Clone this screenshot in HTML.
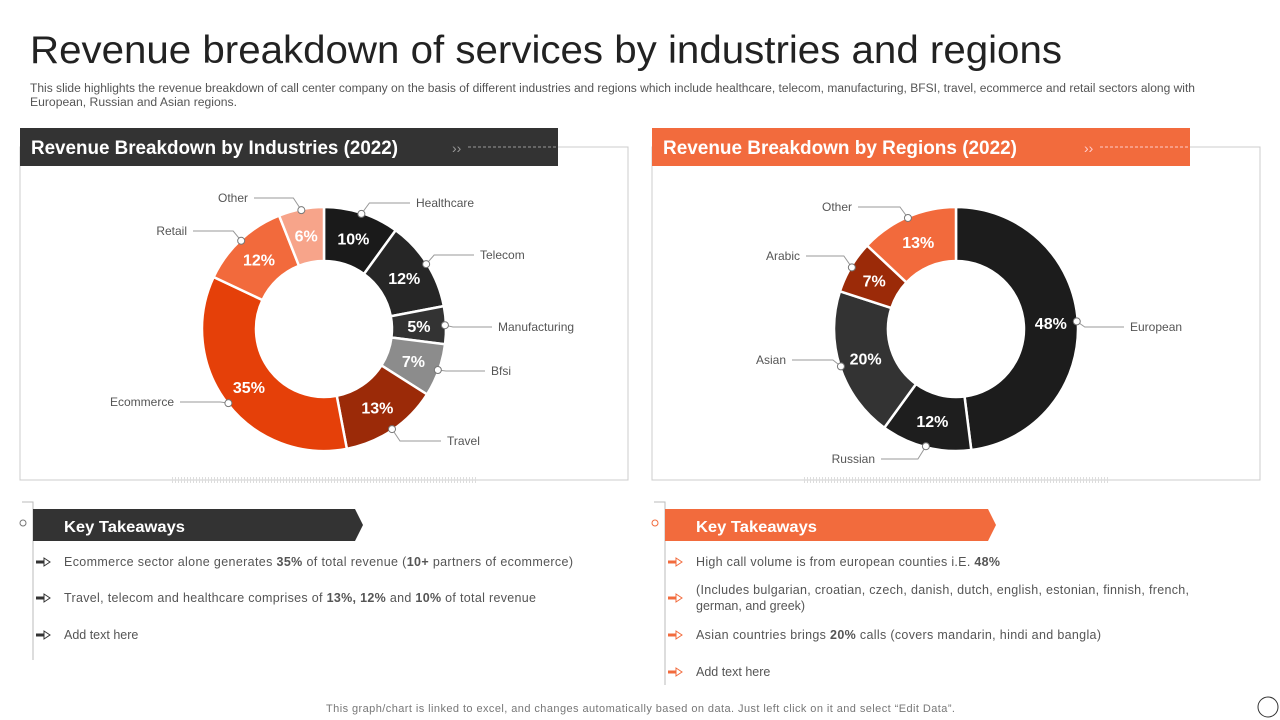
<!DOCTYPE html>
<html><head><meta charset="utf-8"><style>
body{margin:0;background:#fff;}
svg{display:block;font-family:"Liberation Sans",sans-serif;}
</style></head><body>
<svg id="s" width="1280" height="720" viewBox="0 0 1280 720">
<text x="30" y="63" font-size="39" fill="#222" textLength="1032" lengthAdjust="spacingAndGlyphs">Revenue breakdown of services by industries and regions</text>
<text x="30" y="92" font-size="11.5" fill="#555" textLength="1165" lengthAdjust="spacingAndGlyphs">This slide highlights the revenue breakdown of call center company on the basis of different industries and regions which include healthcare, telecom, manufacturing, BFSI, travel,  ecommerce and retail sectors along with</text>
<text x="30" y="106" font-size="11.5" fill="#555" textLength="207" lengthAdjust="spacingAndGlyphs">European, Russian and Asian regions.</text>

<rect x="20" y="147" width="608" height="333" fill="none" stroke="#ccc"/>
<rect x="20" y="128" width="538" height="38" fill="#333"/>
<text x="31" y="154" font-size="19" font-weight="bold" fill="#fff" textLength="367" lengthAdjust="spacingAndGlyphs">Revenue Breakdown by Industries (2022)</text>
<text x="452" y="153" font-size="14" fill="#999">››</text>
<line x1="468" y1="147" x2="558" y2="147" stroke="#999" stroke-dasharray="3,2"/>
<line x1="172" y1="480" x2="478" y2="480" stroke="#ddd" stroke-width="6" stroke-dasharray="1,2"/>

<rect x="652" y="147" width="608" height="333" fill="none" stroke="#ccc"/>
<rect x="652" y="128" width="538" height="38" fill="#f26b3d"/>
<text x="663" y="154" font-size="19" font-weight="bold" fill="#fff" textLength="354" lengthAdjust="spacingAndGlyphs">Revenue Breakdown by Regions (2022)</text>
<text x="1084" y="153" font-size="14" fill="#fcc">››</text>
<line x1="1100" y1="147" x2="1190" y2="147" stroke="#fcc" stroke-dasharray="3,2"/>
<line x1="804" y1="480" x2="1110" y2="480" stroke="#ddd" stroke-width="6" stroke-dasharray="1,2"/>

<g id="chart1"></g>
<g id="chart2"></g>

<polyline points="22,502 33,502 33,660" fill="none" stroke="#bbb"/>
<circle cx="23" cy="523" r="3" fill="#fff" stroke="#777"/>
<polygon points="33,509 355,509 363,525 355,541 33,541" fill="#333"/>
<text x="64" y="532" font-size="16" font-weight="bold" fill="#fff" textLength="121" lengthAdjust="spacingAndGlyphs">Key Takeaways</text>
<g font-size="12.5" fill="#555">
<text x="64" y="566" textLength="509" lengthAdjust="spacing">Ecommerce sector alone generates <tspan font-weight="bold">35%</tspan> of total revenue  (<tspan font-weight="bold">10+</tspan> partners of ecommerce)</text>
<text x="64" y="602" textLength="472" lengthAdjust="spacing">Travel, telecom and healthcare comprises of <tspan font-weight="bold">13%, 12%</tspan> and <tspan font-weight="bold">10%</tspan> of total revenue</text>
<text x="64" y="639">Add text here</text>
<text x="696" y="566" textLength="304" lengthAdjust="spacing">High call volume is from european counties i.E. <tspan font-weight="bold">48%</tspan></text>
<text x="696" y="594" textLength="493" lengthAdjust="spacing">(Includes bulgarian, croatian, czech, danish, dutch, english, estonian, finnish, french,</text>
<text x="696" y="610">german, and greek)</text>
<text x="696" y="639" textLength="405" lengthAdjust="spacing">Asian countries brings <tspan font-weight="bold">20%</tspan> calls (covers mandarin, hindi and bangla)</text>
<text x="696" y="676">Add text here</text>
</g>
<g id="arrows"></g>

<polyline points="654,502 665,502 665,685" fill="none" stroke="#bbb"/>
<circle cx="655" cy="523" r="3" fill="#fff" stroke="#f26b3d"/>
<polygon points="665,509 988,509 996,525 988,541 665,541" fill="#f26b3d"/>
<text x="696" y="532" font-size="16" font-weight="bold" fill="#fff" textLength="121" lengthAdjust="spacingAndGlyphs">Key Takeaways</text>

<text x="326" y="712" font-size="11" fill="#777" textLength="629" lengthAdjust="spacing">This graph/chart is linked to excel,  and changes automatically based on data. Just left click on it and select “Edit Data”.</text>
<circle cx="1268" cy="707" r="10" fill="none" stroke="#333"/>
</svg>
<script>
const indCategories=["Healthcare","Telecom","Manufacturing","Bfsi","Travel","Ecommerce","Retail","Other"];
const indValues=[10,12,5,7,13,35,12,6];
const regCategories=["European","Russian","Asian","Arabic","Other"];
const regValues=[48,12,20,7,13];

const NS="http://www.w3.org/2000/svg";
function mk(tag,attrs,parent){const e=document.createElementNS(NS,tag);for(const k in attrs)e.setAttribute(k,attrs[k]);parent.appendChild(e);return e;}
function pt(cx,cy,r,a){return [cx+r*Math.sin(a),cy-r*Math.cos(a)];}
function donut(g,cats,vals,colors,labelPos,cx,cy,R,r0){
  const total=vals.reduce((a,b)=>a+b,0);let acc=0;
  vals.forEach((v,i)=>{
    const a0=acc/total*2*Math.PI;acc+=v;const a1=acc/total*2*Math.PI;const am=(a0+a1)/2;
    const large=(a1-a0)>Math.PI?1:0;
    const p1=pt(cx,cy,R,a0),p2=pt(cx,cy,R,a1),p3=pt(cx,cy,r0,a1),p4=pt(cx,cy,r0,a0);
    const path=mk('path',{d:`M${p1}A${R},${R} 0 ${large} 1 ${p2}L${p3}A${r0},${r0} 0 ${large} 0 ${p4}Z`,fill:colors[i],stroke:'#fff','stroke-width':2.5},g);
    
    
    const m=pt(cx,cy,(R+r0)/2,am);
    const t=mk('text',{x:m[0],y:m[1]+6,'text-anchor':'middle','font-size':16,'font-weight':'bold',fill:'#fff'},g);
    t.textContent=v+'%';
    
    
    const d=pt(cx,cy,R-1,am);const lp=labelPos[i];const right=lp[0]>cx;
    const ex=lp[0]+(right?-6:6);
    const ln=mk('polyline',{points:`${d} ${d[0]+(right?8:-8)},${lp[1]-4} ${ex},${lp[1]-4}`,fill:'none',stroke:'#999'},g);
    
    
    const c=mk('circle',{cx:d[0],cy:d[1],r:3.5,fill:'#fff',stroke:'#777'},g);
    
    
    const lt=mk('text',{x:lp[0],y:lp[1],'text-anchor':right?'start':'end','font-size':12,fill:'#555'},g);
    lt.textContent=cats[i];
    
    
  });
}
donut(document.getElementById('chart1'),indCategories,indValues,
 ['#1a1a1a','#262626','#333333','#8c8c8c','#9b2a08','#e54009','#f26a3c','#f7a48a'],
 [[416,207],[480,259],[498,331],[491,375],[447,445],[174,406],[187,235],[248,202]],324,329,122,68);
donut(document.getElementById('chart2'),regCategories,regValues,
 ['#1c1c1c','#1e1e1e','#333333','#9b2a08','#f26a3c'],
 [[1130,331],[875,463],[786,364],[800,260],[852,211]],956,329,122,68);

const ag=document.getElementById('arrows');
[[36,562,'#333'],[36,598,'#333'],[36,635,'#333'],[668,562,'#f26b3d'],[668,598,'#f26b3d'],[668,635,'#f26b3d'],[668,672,'#f26b3d']].forEach(([x,y,c],i)=>{
  const l=mk('line',{x1:x,y1:y,x2:x+8,y2:y,stroke:c,'stroke-width':3},ag);
  
  
  mk('polygon',{points:`${x+8},${y-4} ${x+14},${y} ${x+8},${y+4}`,fill:'#fff',stroke:c},ag);
});
</script>
</body></html>
